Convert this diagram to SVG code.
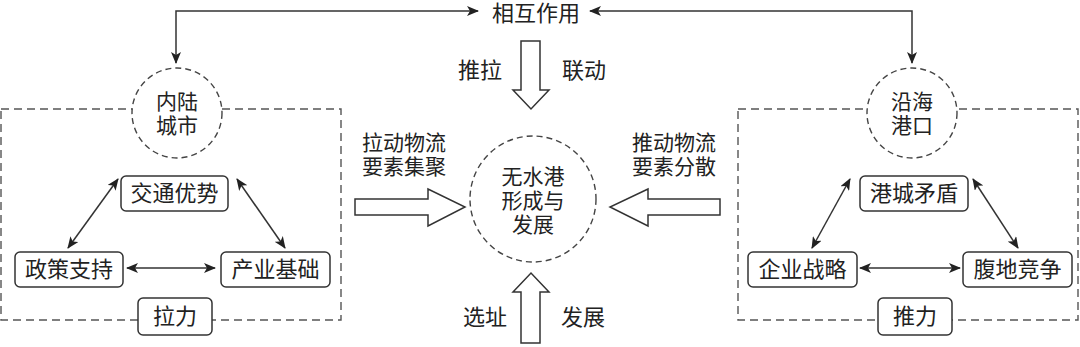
<svg xmlns="http://www.w3.org/2000/svg" width="1080" height="347" viewBox="0 0 1080 347">
<defs>
<style>
.t{font-family:"Liberation Sans","Noto Sans CJK SC",sans-serif;font-size:22px;fill:#222;text-anchor:middle;dominant-baseline:central}
.m{font-size:21px}
.box{fill:#fff;stroke:#333;stroke-width:1.5}
.dc{fill:#fff;stroke:#444;stroke-width:1.4;stroke-dasharray:6,4}
.db{fill:none;stroke:#555;stroke-width:1.4;stroke-dasharray:8,5}
.ln{fill:none;stroke:#333;stroke-width:1.5}
.ha{fill:#fff;stroke:#333;stroke-width:1.5;stroke-linejoin:miter}
</style>
<marker id="ah" viewBox="0 0 12 10" refX="11" refY="5" markerWidth="12" markerHeight="10" markerUnits="userSpaceOnUse" orient="auto-start-reverse">
<path d="M0,0 L12,5 L0,10 L3,5 Z" fill="#222"/>
</marker>
</defs>
<rect width="1080" height="347" fill="#fff"/>

<g id="left-frame"><rect class="db" x="1" y="109" width="340" height="211"/></g>
<g id="right-frame"><rect class="db" x="738" y="109" width="340" height="211"/></g>

<g id="connectors">
<polyline class="ln" points="176,63 176,11 478,11" marker-start="url(#ah)" marker-end="url(#ah)"/>
<polyline class="ln" points="912,63 912,11 590,11" marker-start="url(#ah)" marker-end="url(#ah)"/>
<line class="ln" x1="118" y1="179" x2="68" y2="248" marker-start="url(#ah)" marker-end="url(#ah)"/>
<line class="ln" x1="237" y1="179" x2="285" y2="248" marker-start="url(#ah)" marker-end="url(#ah)"/>
<line class="ln" x1="127" y1="268" x2="215" y2="268" marker-start="url(#ah)" marker-end="url(#ah)"/>
<line class="ln" x1="850" y1="179" x2="812" y2="248" marker-start="url(#ah)" marker-end="url(#ah)"/>
<line class="ln" x1="973" y1="179" x2="1018" y2="248" marker-start="url(#ah)" marker-end="url(#ah)"/>
<line class="ln" x1="860" y1="268" x2="960" y2="268" marker-start="url(#ah)" marker-end="url(#ah)"/>
<path class="ha" d="M521,41 H540 V90 H549 L531,109 L513,90 H521 Z"/>
<path class="ha" d="M521,343 H540 V292 H549 L531,273 L513,292 H521 Z"/>
<path class="ha" d="M355,199 H428 V189 L465,207 L428,226 V215 H355 Z"/>
<path class="ha" d="M720,199 H648 V189 L610,207 L648,226 V215 H720 Z"/>
</g>

<g id="interaction"><text class="t" x="536" y="13">相互作用</text></g>
<g id="label-tuila"><text class="t" x="480" y="70">推拉</text><text class="t" x="584" y="70">联动</text></g>
<g id="label-xuanzhi"><text class="t" x="485" y="317">选址</text><text class="t" x="583" y="317">发展</text></g>
<g id="label-la"><text class="t m" x="404" y="142">拉动物流</text><text class="t m" x="404" y="166">要素集聚</text></g>
<g id="label-tui"><text class="t m" x="674" y="142">推动物流</text><text class="t m" x="674" y="166">要素分散</text></g>

<g id="center"><circle class="dc" cx="533" cy="199" r="63"/>
<text class="t m" x="533" y="176">无水港</text><text class="t m" x="533" y="200">形成与</text><text class="t m" x="533" y="224">发展</text></g>

<g id="inland"><circle class="dc" cx="177" cy="113" r="45"/>
<text class="t m" x="177" y="101">内陆</text><text class="t m" x="177" y="125">城市</text></g>
<g id="coastal"><circle class="dc" cx="912" cy="113" r="45"/>
<text class="t m" x="912" y="101">沿海</text><text class="t m" x="912" y="125">港口</text></g>

<g id="jiaotong"><rect class="box" x="121" y="176" width="107" height="35" rx="5"/><text class="t" x="174.5" y="193.5">交通优势</text></g>
<g id="zhengce"><rect class="box" x="15" y="252" width="108" height="35" rx="5"/><text class="t" x="69" y="269.5">政策支持</text></g>
<g id="chanye"><rect class="box" x="221" y="252" width="109" height="35" rx="5"/><text class="t" x="275.5" y="269.5">产业基础</text></g>
<g id="lali"><rect class="box" x="138" y="298" width="74" height="37" rx="5"/><text class="t" x="175" y="316.5">拉力</text></g>

<g id="gangcheng"><rect class="box" x="860" y="176" width="108" height="35" rx="5"/><text class="t" x="914" y="193.5">港城矛盾</text></g>
<g id="qiye"><rect class="box" x="748" y="252" width="109" height="35" rx="5"/><text class="t" x="802.5" y="269.5">企业战略</text></g>
<g id="fudi"><rect class="box" x="963" y="252" width="109" height="35" rx="5"/><text class="t" x="1017.5" y="269.5">腹地竞争</text></g>
<g id="tuili"><rect class="box" x="878" y="298" width="74" height="37" rx="5"/><text class="t" x="915" y="316.5">推力</text></g>
</svg>
